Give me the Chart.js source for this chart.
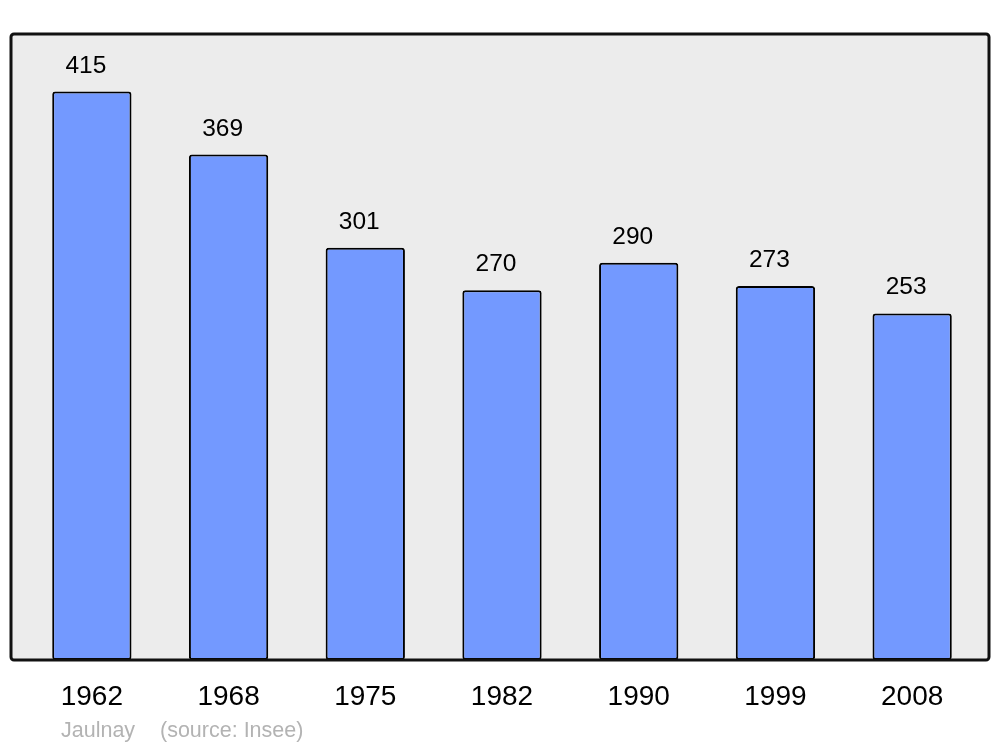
<!DOCTYPE html>
<html>
<head>
<meta charset="utf-8">
<script src="https://cdn.jsdelivr.net/npm/chart.js@4/dist/chart.umd.min.js"></script>
<style>
  html, body { margin: 0; padding: 0; background: #ffffff; }
  #wrap { width: 1000px; height: 747px; position: relative; }
</style>
</head>
<body>
<div id="wrap"><canvas id="popChart"></canvas></div>
<script>
const years = ["1962", "1968", "1975", "1982", "1990", "1999", "2008"];
const population = [415, 369, 301, 270, 290, 273, 253];
const placeName = "Jaulnay";
const sourceNote = "(source: Insee)";

// grey frame behind the bars
const framePlugin = {
  id: "frame",
  beforeDatasetsDraw(chart) {
    const { ctx, chartArea } = chart;
    const x0 = chartArea.left - 12.5, x1 = chartArea.right + 8.5;
    const y0 = chartArea.top, y1 = chartArea.bottom;
    ctx.save();
    ctx.beginPath();
    ctx.roundRect(x0, y0, x1 - x0, y1 - y0, 3);
    ctx.fillStyle = "#ececec";
    ctx.fill();
    ctx.restore();
  },
  afterDatasetsDraw(chart) {
    const { ctx, chartArea } = chart;
    const x0 = chartArea.left - 12.5, x1 = chartArea.right + 8.5;
    const y0 = chartArea.top, y1 = chartArea.bottom;
    ctx.save();
    ctx.beginPath();
    ctx.roundRect(x0, y0, x1 - x0, y1 - y0, 3);
    ctx.lineWidth = 3;
    ctx.strokeStyle = "#111111";
    ctx.stroke();
    ctx.restore();
  }
};

// numbers above bars + footer text
const labelPlugin = {
  id: "barLabels",
  afterDraw(chart) {
    const { ctx } = chart;
    const meta = chart.getDatasetMeta(0);
    ctx.save();
    ctx.fillStyle = "#000000";
    ctx.font = "24.5px 'Liberation Sans', Arial, sans-serif";
    ctx.textAlign = "center";
    ctx.textBaseline = "alphabetic";
    meta.data.forEach((bar, i) => {
      ctx.fillText(String(population[i]), bar.x - 6, bar.y - 19);
    });
    ctx.fillStyle = "#b3b3b3";
    ctx.font = "21.5px 'Liberation Sans', Arial, sans-serif";
    ctx.textAlign = "left";
    ctx.fillText(placeName, 61, 737);
    ctx.fillText(sourceNote, 160, 737);
    ctx.restore();
  }
};

new Chart(document.getElementById("popChart").getContext("2d"), {
  type: "bar",
  data: {
    labels: years,
    datasets: [
      {
        data: population,
        backgroundColor: "#7399ff",
        borderColor: "#000000",
        borderWidth: 2,
        borderRadius: 3,
        borderSkipped: false,
        barPercentage: 0.58,
        categoryPercentage: 1
      }
    ]
  },
  options: {
    responsive: true,
    maintainAspectRatio: false,
    animation: false,
    layout: {
      padding: { left: 23.5, right: 19.5, top: 34, bottom: 0 }
    },
    plugins: {
      legend: { display: false },
      tooltip: { enabled: false }
    },
    scales: {
      x: {
        grid: { display: false, drawTicks: false },
        border: { display: false },
        ticks: {
          color: "#000000",
          padding: 20,
          font: { family: "'Liberation Sans', Arial, sans-serif", size: 28 }
        },
        afterFit(scale) {
          scale.height = 87;
        }
      },
      y: {
        display: false,
        min: 0,
        max: 457
      }
    }
  },
  plugins: [framePlugin, labelPlugin]
});
</script>
</body>
</html>
